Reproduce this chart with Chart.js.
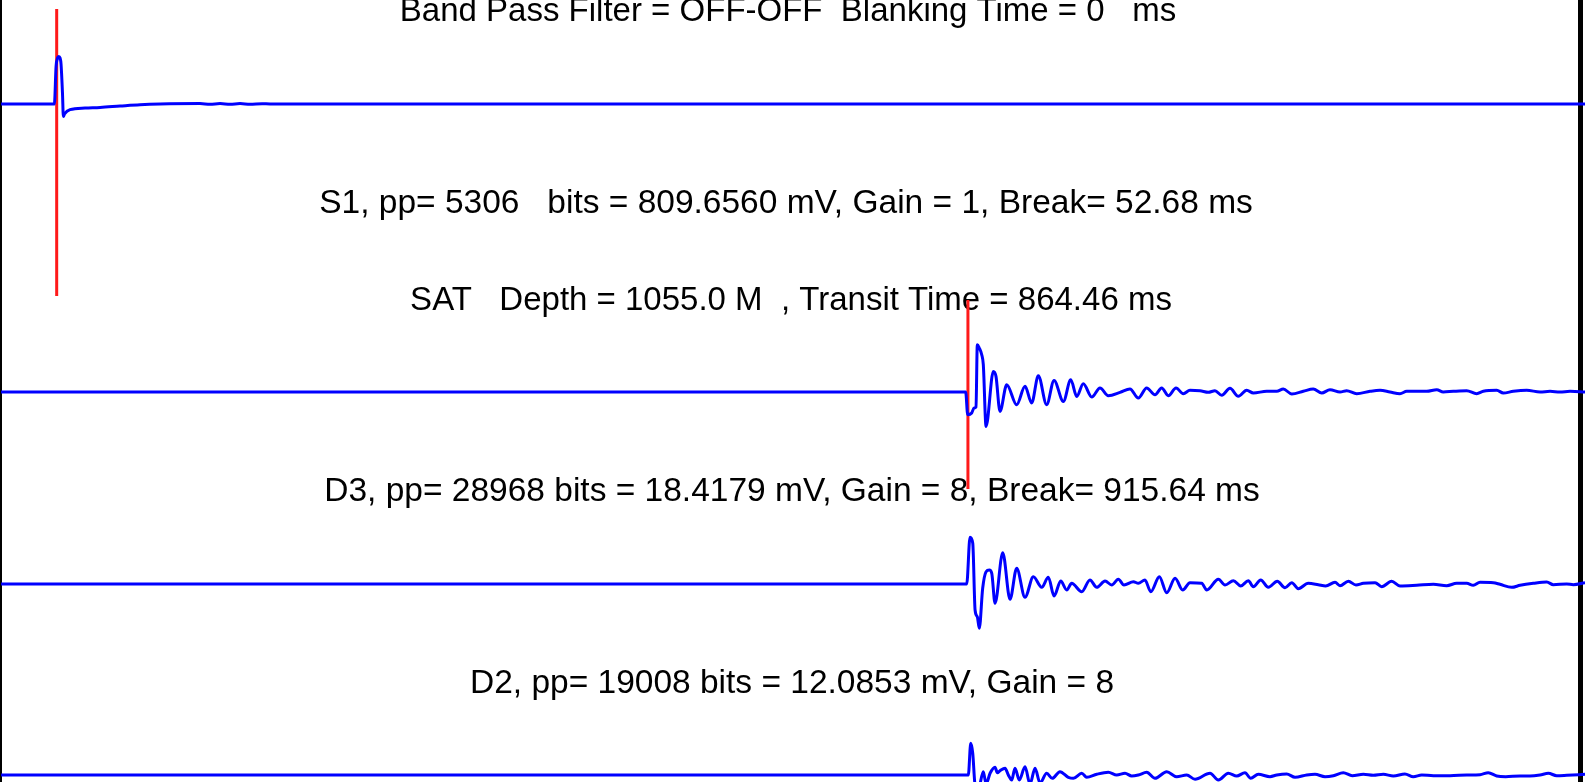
<!DOCTYPE html>
<html lang="en">
<head>
<meta charset="UTF-8">
<title>SAT - tracos</title>
<script src="https://cdn.jsdelivr.net/npm/chart.js"></script>
<style>
  html, body { margin: 0; padding: 0; background: #fff; overflow: hidden; }
  #quadro { width: 1585px; height: 782px; }
</style>
</head>
<body>
<div id="quadro"><canvas id="grafico" width="1585" height="782"></canvas></div>
<script>
// tempos em ms, amplitudes (positivo = para cima)
const s1Tempo = [0, 50.5, 52.1, 53.5, 54.6, 55.9, 56.8, 58.2, 59.0, 60.1, 65.3, 79.5, 93.8, 112.7, 131.6, 150.6,
  188.4, 197.9, 207.4, 216.9, 226.3, 235.8, 247.2, 254.7, 1500];
const s1Amp = [0, 0, 37.6, 46, 47.6, 46, 40, 10, -12.5, -10, -5.7, -4, -3.4, -2, -0.7, 0,
  0.4, -0.3, 0.5, -0.3, 0.4, -0.2, 0.3, 0, 0];

const satTempo = [0, 913.5, 915.4, 919.2, 921.4, 923.3, 924.5, 926.4, 928.7, 930.2, 932.8, 939.7, 942.2, 946.0,
  952.4, 961.8, 969.7, 976.0, 982.3, 990.2, 997.2, 1006.0, 1013.0, 1018.7, 1024.9, 1032.9, 1040.7, 1048.6,
  1059.7, 1069.1, 1077.0, 1084.9, 1092.8, 1099.1, 1105.4, 1112.7, 1119.6, 1125.9, 1135.4, 1143.3, 1149.6,
  1156.0, 1163.8, 1171.7, 1179.6, 1185.9, 1198.6, 1208.1, 1214.3, 1222.3, 1233.2, 1242.7, 1250.7, 1258.5,
  1268.0, 1274.3, 1283.8, 1296.4, 1305.9, 1315.3, 1324.8, 1331.2, 1340.6, 1350.1, 1359.6, 1365.8, 1375.3,
  1388.0, 1397.4, 1403.7, 1416.4, 1422.6, 1432.1, 1444.8, 1457.4, 1466.9, 1476.3, 1485.8, 1500];
const satAmp = [0, 0, -22.7, -21, -16, -15, 47.3, 44, 37.3, 27.3, -34.4, 20.6, 15.6, -19.4,
  7.3, -12.7, 5.7, -11, 16.3, -12.7, 11.6, -9.4, 12.3, -4.4, 8.3, -5, 4, -3.7,
  -0.4, 3, -6, 4, -2.7, 4, -3.7, 4, -1.7, 1.7, 1.3, -0.3, 1.3,
  -3.3, 3.7, -4.3, 1.7, -1, 0.7, 0.7, 3, -2, 0.7, 3, -1, 2.3,
  0, 1.3, -1.7, 0.7, 1.7, 0, -1.7, 0.7, 0.7, 0.7, 2.3, 0, 0.7,
  1.3, -1.7, 0.7, 1.7, -1, 0.7, 1.7, 0, 0.7, 0, 0.7, 0];

const d3Tempo = [0, 914.5, 917.6, 920.2, 922.4, 924.5, 926.4, 929.6, 932.8, 935.9, 938.2, 941.3, 948.6, 955.5,
  961.8, 969.7, 977.6, 985.5, 991.8, 997.2, 1003.5, 1009.2, 1013.9, 1023.4, 1031.2, 1037.6, 1045.5, 1051.8,
  1058.1, 1063.4, 1072.3, 1077.0, 1083.3, 1088.8, 1096.9, 1103.9, 1111.8, 1119.0, 1125.9, 1137.0, 1141.8,
  1152.8, 1159.1, 1167.0, 1173.9, 1181.2, 1185.9, 1192.9, 1200.1, 1208.6, 1215.9, 1222.3, 1228.5, 1237.9,
  1247.4, 1254.4, 1263.3, 1268.0, 1275.9, 1283.1, 1290.1, 1301.2, 1307.5, 1316.9, 1324.8, 1340.6, 1356.4,
  1369.0, 1378.5, 1388.0, 1394.2, 1400.6, 1413.2, 1419.5, 1430.6, 1438.5, 1451.1, 1463.8, 1470.0, 1482.7,
  1488.9, 1500];
const d3Amp = [0, 0, 46.7, 40.7, -26, -32.7, -44.3, -4.3, 12.3, 14, 10.7, -19.3, 31.3, -15.3,
  15.7, -13.3, 7.3, -3.3, 6.7, -12, 3, -6, 0.7, -7.7, 4, -3.3, 3, -1,
  4.7, -1, 2.3, 0.7, 4, -7.7, 7.3, -8.7, 5.7, -6, 1.3, 0.7, -6,
  4.7, -1, 3.3, -2, 3.3, -2.7, 4, -3.3, 2.7, -3.7, 1.3, -4.7, 0.7,
  -0.7, -2, 1.7, -1.7, 2.7, -1, 0.7, 1.3, -2.7, 2.7, -2, -1.3, -0.3,
  -1.7, 0.7, 0.7, -1.3, 1.7, 1.3, -0.3, -3.3, -1.3, 0.7, 2, -0.7, 0,
  -0.7, 1.3];

const d2Tempo = [0, 916.0, 918.3, 920.2, 922.4, 925.5, 930.2, 932.8, 936.6, 941.3, 943.5, 946.0, 950.8, 953.9,
  957.1, 960.2, 964.3, 969.7, 974.4, 979.2, 983.9, 990.2, 995.5, 1002.8, 1010.7, 1015.5, 1023.4, 1028.1,
  1037.6, 1048.6, 1056.5, 1064.4, 1070.7, 1077.0, 1084.9, 1092.8, 1103.9, 1113.3, 1122.8, 1130.7, 1144.9,
  1152.8, 1162.2, 1170.2, 1178.0, 1183.4, 1190.6, 1201.7, 1208.1, 1217.5, 1225.4, 1236.5, 1244.3, 1253.8,
  1261.7, 1271.1, 1279.6, 1290.1, 1299.5, 1309.0, 1318.5, 1329.5, 1337.4, 1345.4, 1356.4, 1372.2, 1388.0,
  1400.6, 1408.4, 1416.4, 1424.9, 1438.5, 1447.9, 1457.4, 1465.3, 1473.2, 1482.7, 1500];
const d2Amp = [0, 0, 31.7, 21.7, -10, -14, 3.3, -9, 1.7, 7.7, 2.3, 4.3, 6.7, 0,
  -5, 6.7, -5, 8.3, -9, 6.7, -8, 1.7, -3.3, 3.3, -2.3, -3.3, 1.7, -2.3,
  0.7, 2.7, 0, 1.7, -1, 0, 2.7, -3.3, 3.3, -1.7, 0, -4.3, 1.7,
  -5, 1.7, -1, 2.3, -3.3, 0.7, -1.7, 0, 1, -2.3, 0, 0.7, -1.7,
  -0.7, 2.3, -0.7, 0.7, -0.3, 0.7, -1, 1, -1.7, 0, -0.7, -0.7, 0,
  0.3, 2.3, -1, -1.7, -1, -1, 0, 1.7, -0.7, -0.3, 0.7];

// quebras (picks) em ms
const quebraS1 = 52.68;
const quebraD3 = 915.64;

const rotulos = [
  'Band Pass Filter = OFF-OFF  Blanking Time = 0   ms',
  'S1, pp= 5306   bits = 809.6560 mV, Gain = 1, Break= 52.68 ms',
  'SAT   Depth = 1055.0 M  , Transit Time = 864.46 ms',
  'D3, pp= 28968 bits = 18.4179 mV, Gain = 8, Break= 915.64 ms',
  'D2, pp= 19008 bits = 12.0853 mV, Gain = 8'
];

// layout da figura (eixo y em unidades de tela, para baixo)
const linhaBase = [104, 392, 584, 775];
const rotuloX = [788, 786, 791, 792, 792];
const rotuloY = [21, 213, 310, 501, 693];
const rotuloTam = [33, 33.5, 33, 33.5, 33.5];

function traco(tempo, amp, base) {
  return tempo.map((t, i) => ({ x: t, y: base - amp[i] }));
}

const textos = {
  id: 'textos',
  beforeDatasetsDraw(chart) {
    const ctx = chart.ctx;
    ctx.save();
    ctx.fillStyle = '#000';
    ctx.fillRect(0, 0, 2, chart.height);
    ctx.fillRect(1578, 0, 5, chart.height);
    ctx.textAlign = 'center';
    ctx.textBaseline = 'alphabetic';
    rotulos.forEach((txt, i) => {
      ctx.font = rotuloTam[i] + 'px "Liberation Sans", Arial, sans-serif';
      ctx.fillText(txt, rotuloX[i], rotuloY[i]);
    });
    ctx.restore();
  }
};

const azul = { borderColor: '#0000ff', borderWidth: 3, pointRadius: 0, cubicInterpolationMode: 'monotone', fill: false };
const vermelho = { borderColor: '#ff1a1a', borderWidth: 3, pointRadius: 0, tension: 0, fill: false };

new Chart(document.getElementById('grafico'), {
  type: 'line',
  data: {
    datasets: [
      { ...azul, label: 'S1', data: traco(s1Tempo, s1Amp, linhaBase[0]) },
      { ...azul, label: 'SAT', data: traco(satTempo, satAmp, linhaBase[1]) },
      { ...azul, label: 'D3', data: traco(d3Tempo, d3Amp, linhaBase[2]) },
      { ...azul, label: 'D2', data: traco(d2Tempo, d2Amp, linhaBase[3]) },
      { ...vermelho, label: 'Break S1', data: [{ x: quebraS1, y: 9 }, { x: quebraS1, y: 296 }] },
      { ...vermelho, label: 'Break D3', data: [{ x: quebraD3, y: 300 }, { x: quebraD3, y: 489 }] }
    ]
  },
  options: {
    responsive: false,
    animation: false,
    layout: { padding: 0 },
    scales: {
      x: { type: 'linear', min: -1, max: 1500, display: false },
      y: { type: 'linear', min: 0, max: 782, reverse: true, display: false }
    },
    plugins: {
      legend: { display: false },
      tooltip: { enabled: false }
    }
  },
  plugins: [textos]
});
</script>
</body>
</html>
